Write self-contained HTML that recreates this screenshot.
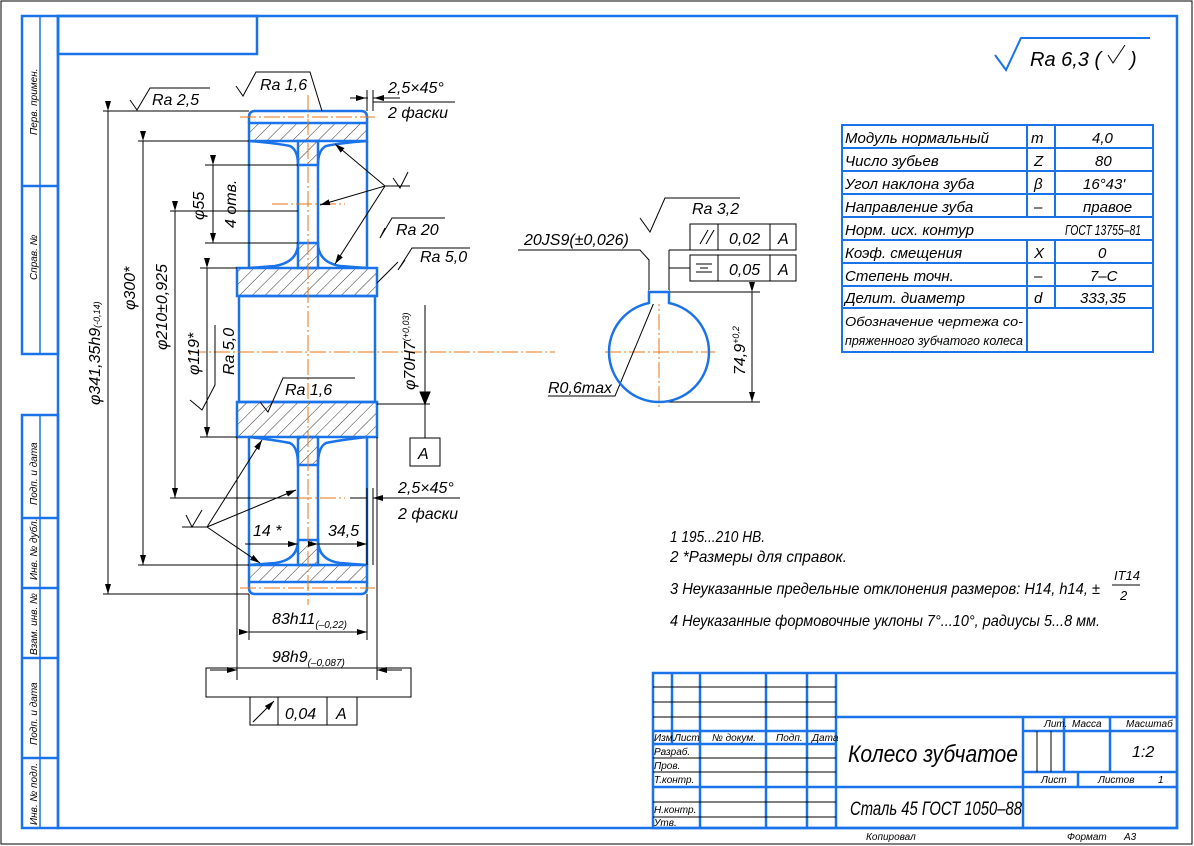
<!DOCTYPE html>
<html><head><meta charset="utf-8"><style>
html,body{margin:0;padding:0;background:#fff}
svg{display:block}
text{font-family:"Liberation Sans","DejaVu Sans",sans-serif;font-style:italic;fill:#000}
</style></head><body>
<svg width="1194" height="846" viewBox="0 0 1194 846" xmlns="http://www.w3.org/2000/svg">
<defs>
<pattern id="h" patternUnits="userSpaceOnUse" width="9" height="9" patternTransform="rotate(45)">
<line x1="0" y1="0" x2="0" y2="9" stroke="#000" stroke-width="0.8"/></pattern>
<marker id="a" markerWidth="10" markerHeight="6" refX="10" refY="3" orient="auto"><path d="M0,0 L10,3 L0,6z" fill="#000"/></marker>
</defs>
<rect x="1" y="1" width="1191" height="843" fill="none" stroke="#000" stroke-width="1"/>
<g fill="none" stroke="#1a73e8" stroke-width="2.5">
<rect x="58" y="16" width="1119" height="812"/>
<rect x="22" y="16" width="36" height="338"/>
<line x1="22" y1="186" x2="58" y2="186"/>
<rect x="22" y="415" width="36" height="413"/>
<line x1="22" y1="518" x2="58" y2="518"/><line x1="22" y1="588" x2="58" y2="588"/>
<line x1="22" y1="658" x2="58" y2="658"/><line x1="22" y1="758" x2="58" y2="758"/>
<line x1="40" y1="415" x2="40" y2="828" stroke-width="1.5"/>
<line x1="40" y1="16" x2="40" y2="354" stroke-width="1.5"/>
<rect x="58" y="16" width="199" height="38"/>
</g>
<g font-size="10" transform="rotate(-90)">
<text x="-135" y="37">Перв. примен.</text><text x="-280" y="37">Справ. №</text>
<text x="-505" y="37">Подп. и дата</text><text x="-580" y="37">Инв. № дубл.</text>
<text x="-655" y="37">Взам. инв. №</text><text x="-745" y="37">Подп. и дата</text>
<text x="-825" y="37">Инв. № подл.</text></g>

<path d="M995,55 L1006,70 L1021,38 L1150,38" fill="none" stroke="#1a73e8" stroke-width="2"/>
<text x="1030" y="66" font-size="20">Ra 6,3 (</text><path d="M1108,55 l5,8 l12,-18" fill="none" stroke="#000"/><text x="1130" y="66" font-size="20">)</text>

<g fill="none" stroke="#1a73e8" stroke-width="2">
<rect x="842" y="125" width="311" height="227"/>
<line x1="1027" y1="125" x2="1027" y2="217"/><line x1="1027" y1="240" x2="1027" y2="308"/>
<line x1="1055" y1="125" x2="1055" y2="217"/><line x1="1055" y1="240" x2="1055" y2="308"/>
<line x1="1027" y1="308" x2="1027" y2="352"/>
<path d="M842,148H1153M842,171H1153M842,194H1153M842,217H1153M842,240H1153M842,263H1153M842,286H1153M842,308H1153"/>
</g>
<g font-size="15">
<text x="845" y="143">Модуль нормальный</text><text x="1031" y="143">m</text><text x="1092" y="143">4,0</text>
<text x="845" y="166">Число зубьев</text><text x="1034" y="166">Z</text><text x="1095" y="166">80</text>
<text x="845" y="189">Угол наклона зуба</text><text x="1034" y="189">β</text><text x="1083" y="189">16°43'</text>
<text x="845" y="212">Направление зуба</text><text x="1034" y="212">–</text><text x="1083" y="212">правое</text>
<text x="845" y="235">Норм. исх. контур</text><text x="1065" y="235" textLength="76" lengthAdjust="spacingAndGlyphs">ГОСТ 13755–81</text>
<text x="845" y="258">Коэф. смещения</text><text x="1034" y="258">X</text><text x="1098" y="258">0</text>
<text x="845" y="281">Степень точн.</text><text x="1034" y="281">–</text><text x="1090" y="281">7–C</text>
<text x="845" y="303">Делит. диаметр</text><text x="1034" y="303">d</text><text x="1080" y="303">333,35</text>
<text x="845" y="326" font-size="13" textLength="178" lengthAdjust="spacingAndGlyphs">Обозначение чертежа со-</text><text x="845" y="345" font-size="13" textLength="178" lengthAdjust="spacingAndGlyphs">пряженного зубчатого колеса</text>
</g>

<g stroke="#1a73e8" stroke-width="2.5" fill="url(#h)">
<rect x="249" y="123" width="118" height="18"/>
<rect x="249" y="565" width="118" height="17"/>
<rect x="237" y="268" width="140" height="28"/>
<rect x="237" y="402" width="140" height="35"/>
<path d="M298,141 V165 H318 V141z M298,243 V268 H318 V243z M298,437 V465 H318 V437z M298,540 V565 H318 V540z"/>
</g>
<g stroke="#1a73e8" stroke-width="2.5" fill="none">
<path d="M249,123 V117 Q249,111 255,111 H361 Q367,111 367,117 V123"/>
<path d="M249,582 V588 Q249,594 255,594 H361 Q367,594 367,588 V582"/>
<path d="M249,141 V268 M367,141 V268 M249,437 V565 M367,437 V565"/>
<path d="M249,141 Q275,143 290,146 Q298,150 298,165 V243 Q298,262 275,266 L249,268"/>
<path d="M367,141 Q340,143 326,146 Q318,150 318,165 V243 Q318,262 340,266 L367,268"/>
<path d="M249,437 Q275,440 290,443 Q298,447 298,465 V540 Q298,560 275,563 L249,565"/>
<path d="M367,437 Q340,440 326,443 Q318,447 318,465 V540 Q318,560 340,563 L367,565"/>
<rect x="239" y="296" width="136" height="106"/>
</g>
<g stroke="#e8761a" stroke-width="1" stroke-dasharray="16,3,2,3" fill="none">
<line x1="308" y1="95" x2="308" y2="605"/><line x1="190" y1="352" x2="555" y2="352"/>
<line x1="240" y1="117" x2="375" y2="117"/><line x1="240" y1="588" x2="375" y2="588"/>
<line x1="272" y1="204" x2="345" y2="204"/><line x1="272" y1="498" x2="345" y2="498"/>
<line x1="659" y1="290" x2="659" y2="410"/><line x1="605" y1="352" x2="715" y2="352"/>
</g>

<g stroke="#000" stroke-width="1" fill="none">
<path d="M103,111 H249 M103,594 H249"/><path d="M108,111 V594" marker-start="url(#a)" marker-end="url(#a)"/>
<path d="M138,141 H249 M138,565 H249"/><path d="M143,141 V565" marker-start="url(#a)" marker-end="url(#a)"/>
<path d="M170,211 H298 M170,498 H298"/><path d="M175,211 V498" marker-start="url(#a)" marker-end="url(#a)"/>
<path d="M200,268 H237 M200,437 H237"/><path d="M207,268 V437" marker-start="url(#a)" marker-end="url(#a)"/>
<path d="M205,165 H298 M205,243 H298"/><path d="M213,165 V243" marker-start="url(#a)" marker-end="url(#a)"/>
<path d="M237,437 V680 M377,437 V680"/><path d="M249,594 V640 M367,594 V640"/>
<path d="M249,632 H367" marker-start="url(#a)" marker-end="url(#a)"/>
<path d="M210,670 H237 M377,670 H402"/>
<path d="M225,670 H237" marker-end="url(#a)"/><path d="M390,670 H377" marker-end="url(#a)"/>
<path d="M245,544 H298" marker-end="url(#a)"/><path d="M318,544 H367" marker-start="url(#a)" marker-end="url(#a)"/>
<path d="M377,404 H430" /><path d="M425,305 V404"/>
<path d="M425,404 L420,392 H430z" fill="#000"/><path d="M425,404 V438"/>
<path d="M350,98 H368 M373,98 H400" /><path d="M355,98 H366" marker-end="url(#a)"/><path d="M385,98 H374" marker-end="url(#a)"/>
<path d="M367,90 V111 M373,90 V111"/><path d="M373,102 H455"/>
<path d="M350,498 H367 M375,498 H460"/>
<path d="M380,498 H373" marker-end="url(#a)"/>
<path d="M367,488 V565 M373,488 V565"/>
<path d="M130,100 L137,110 L150,88 H210"/><path d="M236,86 L243,96 L256,72 H310 L322,111"/>
<path d="M385,228 L380,238 L392,218 H445"/><path d="M405,260 L398,270 L412,248 H470"/><path d="M377,283 L398,262"/>
<path d="M190,400 L202,410 L215,385 H215 V325"/><path d="M260,402 L268,412 L283,378 H355"/>
<path d="M640,218 L650,232 L665,198 H740"/>
<path d="M385,186 L335,144" marker-end="url(#a)"/><path d="M385,186 L320,205" marker-end="url(#a)"/><path d="M385,186 L335,264" marker-end="url(#a)"/>
<path d="M385,186 H410"/><path d="M393,178 L400,188 L408,172"/>
<path d="M207,527 L262,440" marker-end="url(#a)"/><path d="M207,527 L296,490" marker-end="url(#a)"/><path d="M207,527 L260,563" marker-end="url(#a)"/>
<path d="M182,527 H207"/><path d="M186,515 L192,527 L202,510"/>
<rect x="206" y="668" width="205" height="29"/>
<rect x="250" y="697" width="107" height="28"/><line x1="278" y1="697" x2="278" y2="725"/><line x1="327" y1="697" x2="327" y2="725"/>
<path d="M253,722 L274,701" marker-end="url(#a)"/>
<rect x="410" y="438" width="30" height="28"/>
<path d="M518,250 H640 L649,260 V292"/>
<rect x="690" y="224" width="106" height="26"/><line x1="718" y1="224" x2="718" y2="250"/><line x1="770" y1="224" x2="770" y2="250"/>
<rect x="690" y="255" width="106" height="26"/><line x1="718" y1="255" x2="718" y2="281"/><line x1="770" y1="255" x2="770" y2="281"/>
<path d="M700,244 L708,230 M706,244 L714,230"/><path d="M696,264 H712 M700,268 H708 M696,272 H712"/>
<path d="M669,250 H690 M669,268 H690"/><path d="M669,250 V292"/>
<path d="M669,292 H760 M659,402 H760"/><path d="M752,292 V402" marker-start="url(#a)" marker-end="url(#a)"/>
<path d="M548,396 H615 L655,300" />
</g>
<circle cx="659" cy="352" r="50" fill="none" stroke="#1a73e8" stroke-width="2.5"/>
<rect x="649" y="290" width="20" height="14" fill="#fff" stroke="none"/>
<path d="M649,304 V292 H669 V304" fill="none" stroke="#1a73e8" stroke-width="2.5"/>

<g font-size="16">
<text x="152" y="105">Ra 2,5</text><text x="260" y="90">Ra 1,6</text>
<text x="388" y="93">2,5×45°</text><text x="388" y="118">2 фаски</text>
<text x="396" y="235">Ra 20</text><text x="420" y="262">Ra 5,0</text>
<text x="285" y="395">Ra 1,6</text>
<text x="398" y="493">2,5×45°</text><text x="398" y="519">2 фаски</text>
<text x="253" y="536">14 *</text><text x="328" y="536">34,5</text>
<text x="272" y="624">83h11<tspan font-size="10" dy="4">(–0,22)</tspan></text>
<text x="272" y="662">98h9<tspan font-size="10" dy="4">(–0,087)</tspan></text>
<text x="285" y="719">0,04</text><text x="336" y="719">A</text><text x="418" y="459">A</text>
<text x="524" y="245">20JS9(±0,026)</text><text x="692" y="214">Ra 3,2</text>
<text x="729" y="244">0,02</text><text x="778" y="244">A</text><text x="729" y="275">0,05</text><text x="778" y="275">A</text>
<text x="548" y="393">R0,6max</text>
<text x="670" y="542" textLength="95" lengthAdjust="spacingAndGlyphs">1  195...210 HB.</text>
<text x="670" y="562" textLength="177" lengthAdjust="spacingAndGlyphs">2  *Размеры для справок.</text>
<text x="670" y="594" textLength="430" lengthAdjust="spacingAndGlyphs">3  Неуказанные предельные отклонения размеров: H14, h14, ±</text>
<text x="1114" y="580" font-size="13">IT14</text><line x1="1112" y1="585" x2="1140" y2="585" stroke="#000"/><text x="1120" y="600" font-size="13">2</text>
<text x="670" y="626" textLength="430" lengthAdjust="spacingAndGlyphs">4  Неуказанные формовочные уклоны 7°...10°, радиусы 5...8 мм.</text>
</g>
<g font-size="16">
<text transform="translate(100,405) rotate(-90)">φ341,35h9<tspan font-size="9">(-0,14)</tspan></text>
<text transform="translate(135,310) rotate(-90)">φ300*</text>
<text transform="translate(167,350) rotate(-90)">φ210±0,925</text>
<text transform="translate(199,375) rotate(-90)">φ119*</text>
<text transform="translate(234,375) rotate(-90)">Ra 5,0</text>
<text transform="translate(204,220) rotate(-90)">φ55</text>
<text transform="translate(236,228) rotate(-90)">4 отв.</text>
<text transform="translate(415,390) rotate(-90)">φ70H7<tspan font-size="9" dy="-6">(+0,03)</tspan></text>
<text transform="translate(745,375) rotate(-90)">74,9<tspan font-size="9" dy="-6">+0,2</tspan></text>
</g>

<g fill="none" stroke="#1a73e8" stroke-width="2.5">
<rect x="653" y="673" width="524" height="155"/>
<line x1="672" y1="673" x2="672" y2="744"/><line x1="700" y1="673" x2="700" y2="828"/>
<line x1="766" y1="673" x2="766" y2="828"/><line x1="807" y1="673" x2="807" y2="828"/>
<line x1="836" y1="673" x2="836" y2="828"/>
<line x1="653" y1="731" x2="836" y2="731"/><line x1="653" y1="744" x2="836" y2="744"/>
<line x1="653" y1="787" x2="1177" y2="787"/><line x1="836" y1="717" x2="1177" y2="717"/>
<line x1="1023" y1="717" x2="1023" y2="828"/>
<line x1="1023" y1="731" x2="1177" y2="731"/><line x1="1023" y1="772" x2="1177" y2="772"/>
<line x1="1064" y1="717" x2="1064" y2="772"/><line x1="1110" y1="717" x2="1110" y2="772"/>
<line x1="1078" y1="772" x2="1078" y2="787"/>
</g>
<g stroke="#000" stroke-width="1">
<path d="M653,687H836M653,702H836M653,717H836M653,758H836M653,772H836M653,802H836M653,817H836"/>
<path d="M1037,731V772M1051,731V772"/></g>
<g font-size="10">
<text x="654" y="741">Изм.</text><text x="674" y="741">Лист</text><text x="712" y="741">№ докум.</text><text x="776" y="741">Подп.</text><text x="812" y="741">Дата</text>
<text x="654" y="755">Разраб.</text><text x="654" y="769">Пров.</text><text x="654" y="783">Т.контр.</text>
<text x="654" y="813">Н.контр.</text><text x="654" y="826">Утв.</text>
<text x="1044" y="727">Лит.</text><text x="1072" y="727">Масса</text><text x="1126" y="727">Масштаб</text>
<text x="1041" y="783">Лист</text><text x="1098" y="783">Листов</text><text x="1158" y="783">1</text>
<text x="866" y="840">Копировал</text><text x="1067" y="840">Формат</text><text x="1124" y="840">А3</text>
</g>
<text x="848" y="762" font-size="24" textLength="170" lengthAdjust="spacingAndGlyphs">Колесо зубчатое</text>
<text x="850" y="815" font-size="19" textLength="172" lengthAdjust="spacingAndGlyphs">Сталь 45 ГОСТ 1050–88</text>
<text x="1132" y="757" font-size="16">1:2</text>
</svg>
</body></html>
